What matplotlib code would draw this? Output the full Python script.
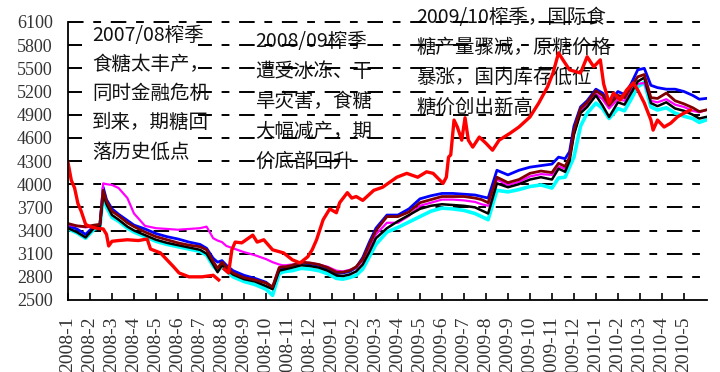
import matplotlib
matplotlib.use('Agg')
import matplotlib.pyplot as plt
from matplotlib.patches import Rectangle

plt.rcParams['font.family'] = ['Liberation Serif', 'DejaVu Serif']

# x positions are months counted from 2008-1 (0) to 2010-5 (28)
month_labels = ['2008-1', '2008-2', '2008-3', '2008-4', '2008-5', '2008-6', '2008-7',
                '2008-8', '2008-9', '2008-10', '2008-11', '2008-12', '2009-1', '2009-2',
                '2009-3', '2009-4', '2009-5', '2009-6', '2009-7', '2009-8', '2009-9',
                '2009-10', '2009-11', '2009-12', '2010-1', '2010-2', '2010-3', '2010-4',
                '2010-5']
y_ticks = [2500, 2800, 3100, 3400, 3700, 4000, 4300, 4600, 4900, 5200, 5500, 5800, 6100]

# futures contracts (shared dates)
t_cluster = [0, 0.4, 0.8, 1.2, 1.45, 1.6, 1.75, 2.0, 2.3, 2.7, 3.0, 3.5, 4.0, 4.5, 5.0,
             5.5, 6.0, 6.3, 6.6, 6.8, 7.0, 7.2, 7.5, 8.0, 8.5, 9.0, 9.3, 9.6, 9.75, 9.9,
             10.2, 10.6, 11.0, 11.4, 11.8, 12.2, 12.5, 12.8, 13.1, 13.4, 13.7, 14.0, 14.5,
             15.0, 15.5, 16.0, 16.5, 17.0, 17.5, 18.0, 18.5, 18.8, 19.1, 19.5, 20.0, 20.5,
             21.0, 21.5, 22.0, 22.3, 22.6, 22.8, 23.0, 23.3, 23.6, 24.0, 24.3, 24.6, 25.0,
             25.3, 25.6, 25.9, 26.2, 26.5, 26.8, 27.2, 27.6, 28.0, 28.4, 28.7, 29.0]

maroon = [3490, 3460, 3450, 3470, 3480, 3920, 3780, 3650, 3590, 3500,
          3450, 3380, 3320, 3280, 3240, 3210, 3190, 3150, 3000, 2910,
          2990, 2930, 2850, 2790, 2760, 2720, 2670, 2920, 2930, 2930,
          2950, 2990, 2980, 2960, 2920, 2860, 2860, 2880, 2930, 3030,
          3220, 3400, 3580, 3580, 3640, 3760, 3800, 3840, 3840, 3840,
          3820, 3800, 3760, 4090, 4020, 4060, 4140, 4170, 4150, 4270,
          4230, 4350, 4700, 4980, 5060, 5210, 5150, 5020, 5150, 5120,
          5260, 5390, 5420, 5120, 5110, 5180, 5080, 5040, 4990, 4940, 4960]

blue = [3460, 3420, 3350, 3460, 3470, 3960, 3800, 3680, 3610, 3530,
        3470, 3420, 3360, 3320, 3290, 3250, 3220, 3170, 3040, 2990,
        3010, 2950, 2880, 2820, 2780, 2730, 2660, 2900, 2910, 2920,
        2940, 2980, 2970, 2950, 2910, 2850, 2850, 2870, 2920, 3050,
        3250, 3430, 3600, 3600, 3680, 3810, 3850, 3880, 3880, 3870,
        3860, 3840, 3820, 4180, 4120, 4180, 4220, 4240, 4260, 4350,
        4330, 4420, 4750, 5000, 5080, 5230, 5180, 5060, 5200, 5160,
        5300, 5480, 5500, 5280, 5250, 5230, 5230, 5200, 5150, 5100, 5110]

black = [3430, 3380, 3310, 3440, 3460, 3870, 3740, 3600, 3540, 3450,
         3400, 3340, 3280, 3240, 3210, 3180, 3150, 3100, 2960, 2860,
         2950, 2900, 2830, 2770, 2740, 2680, 2640, 2880, 2890, 2900,
         2920, 2950, 2940, 2920, 2880, 2820, 2810, 2830, 2870, 2960,
         3120, 3300, 3430, 3520, 3600, 3680, 3720, 3740, 3730, 3720,
         3700, 3660, 3620, 4010, 3960, 4000, 4060, 4090, 4060, 4200,
         4160, 4300, 4640, 4920, 5000, 5150, 5020, 4870, 5060, 5030,
         5180, 5330, 5380, 5050, 5010, 5060, 4980, 4950, 4900, 4850, 4870]

cyan = [3420, 3370, 3300, 3420, 3440, 3850, 3700, 3570, 3520, 3430,
        3380, 3320, 3260, 3220, 3190, 3160, 3130, 3080, 2940, 2880,
        2930, 2880, 2800, 2740, 2700, 2640, 2560, 2840, 2860, 2870,
        2880, 2910, 2900, 2880, 2840, 2780, 2770, 2790, 2820, 2900,
        3060, 3220, 3380, 3440, 3510, 3580, 3650, 3690, 3680, 3660,
        3620, 3580, 3540, 3920, 3900, 3930, 3970, 3990, 3950, 4080,
        4090, 4220, 4350, 4750, 4920, 5050, 4980, 4850, 4980, 4950,
        5100, 5260, 5320, 5000, 4960, 4990, 4920, 4880, 4850, 4800, 4830]

magenta = [3470, 3460, 3440, 3460, 3470, 4010, 4000, 3990, 3950, 3820,
           3620, 3460, 3430, 3420, 3410, 3420, 3430, 3450, 3300, 3270,
           3250, 3200, 3170, 3120, 3080, 3030, 2990, 2960, 2950, 2950,
           2960, 2990, 2980, 2960, 2930, 2880, 2870, 2890, 2920, 3010,
           3180, 3350, 3500, 3500, 3590, 3720, 3760, 3800, 3800, 3790,
           3770, 3740, 3720, 4060, 3990, 4030, 4100, 4130, 4120, 4230,
           4200, 4320, 4650, 4940, 5030, 5170, 5100, 4980, 5100, 5080,
           5220, 5300, 5310, 5080, 5060, 5100, 5030, 5000, 4950, 4930, 4960]

# red series, two pieces
t_red_a = [0, 0.15, 0.3, 0.45, 0.6, 0.8, 1.0, 1.3, 1.6, 1.75, 1.85, 2.0, 2.3, 2.7, 3.2,
           3.6, 3.75, 4.2, 4.5, 4.8, 5.05, 5.5, 6.1, 6.6, 6.85]
red_a = [4280, 4050, 3950, 3750, 3650, 3480, 3450, 3430, 3420, 3350, 3200, 3260, 3270,
         3280, 3270, 3290, 3160, 3110, 3020, 2930, 2850, 2800, 2800, 2820, 2760]

t_red_b = [7.1, 7.3, 7.45, 7.6, 7.9, 8.2, 8.4, 8.6, 8.9, 9.3, 9.8, 10.2, 10.55, 10.9, 11.1,
           11.3, 11.6, 11.9, 12.2, 12.35, 12.7, 12.9, 13.1, 13.4, 13.9, 14.3, 14.95, 15.4,
           15.9, 16.3, 16.6, 17.05, 17.2, 17.3, 17.4, 17.55, 17.7, 17.9, 18.05, 18.2, 18.4,
           18.7, 19.0, 19.3, 19.6, 20.1, 20.5, 21.0, 21.4, 21.8, 22.05, 22.3, 22.5, 22.8,
           23.3, 23.6, 23.9, 24.2, 24.35, 24.6, 24.8, 25.1, 25.4, 25.7, 25.9, 26.2, 26.5,
           26.6, 26.8, 27.1, 27.4, 27.7, 28.0, 28.3]
red_b = [2900, 2850, 3150, 3250, 3240, 3300, 3340, 3250, 3280, 3150, 3110, 3020, 2980,
         3060, 3150, 3280, 3540, 3680, 3630, 3760, 3890, 3820, 3840, 3790, 3920, 3960,
         4090, 4140, 4090, 4160, 4140, 4010, 4090, 4350, 4380, 4830, 4740, 4570, 4860,
         4570, 4480, 4610, 4530, 4440, 4570, 4660, 4740, 4870, 5050, 5260, 5440, 5700,
         5610, 5480, 5440, 5650, 5520, 5610, 5300, 5050, 5180, 5090, 5220, 5310, 5220,
         5050, 4830, 4700, 4830, 4740, 4790, 4870, 4920, 4960]

notes_1 = ['2007/08榨季', '食糖太丰产，', '同时金融危机', '到来，期糖回', '落历史低点']
notes_2 = ['2008/09榨季', '遭受冰冻、干', '旱灾害，食糖', '大幅减产，期', '价底部回升']
notes_3 = ['2009/10榨季，国际食', '糖产量骤减，原糖价格', '暴涨，国内库存低位', '糖价创出新高']

W, H = 720, 372
x_max = 29.05
fig = plt.figure(figsize=(W / 100, H / 100), dpi=100)
ax = fig.add_axes([68 / W, 1 - 300 / H, (707 - 68) / W, (300 - 22) / H])

ax.set_xlim(0, x_max)
ax.set_ylim(2500, 6100)

# dashed gridlines at every y tick (long dash, gap, short dash, gap)
for v in y_ticks[1:]:
    ax.plot([0, x_max], [v, v], color='#000000', lw=1.4, dash_capstyle='butt',
            dashes=(8, 5, 4, 5), zorder=1.2, clip_on=False)

ax.plot(t_cluster, cyan, color='#00FFFF', lw=2.6, zorder=2)
ax.plot(t_cluster, blue, color='#0000FF', lw=2.0, zorder=2.1)
ax.plot(t_cluster, magenta, color='#FF00FF', lw=1.6, zorder=2.2)
ax.plot(t_cluster, black, color='#000000', lw=1.8, zorder=2.3)
ax.plot(t_cluster, maroon, color='#800000', lw=2.0, zorder=2.4)
ax.plot(t_red_a, red_a, color='#FF0000', lw=2.4, zorder=2.5)
ax.plot(t_red_b, red_b, color='#FF0000', lw=2.4, zorder=2.5)

ax.set_xticks(range(len(month_labels)))
ax.set_xticklabels(month_labels, rotation=90, fontsize=14, color='#333333',
                   fontfamily='Liberation Serif')
ax.set_yticks(y_ticks)
ax.set_yticklabels([str(v) for v in y_ticks], fontsize=13, color='#333333',
                   fontfamily='Liberation Serif')
ax.tick_params(axis='x', direction='in', length=5, width=1.2, pad=12)
ax.tick_params(axis='y', length=0, pad=11)

for side in ['top', 'right']:
    ax.spines[side].set_visible(False)
for side in ['left', 'bottom']:
    ax.spines[side].set_linewidth(1.3)
    ax.spines[side].set_color('black')

# white text box behind the first note (hides the gridlines there)
ax.add_patch(Rectangle((82 / W, 1 - 170 / H), 116 / W, 144 / H, transform=fig.transFigure,
                       facecolor='white', edgecolor='none', zorder=1.3, clip_on=False))

cjk = ['Noto Sans CJK SC', 'DejaVu Sans']
for i, s in enumerate(notes_1):
    ax.text(92 / W, 1 - (35 + 29.3 * i) / H, s, transform=fig.transFigure, family=cjk,
            fontsize=14, va='center', ha='left', color='#111111', zorder=1.5)
for i, s in enumerate(notes_2):
    ax.text(255 / W, 1 - (42 + 29.8 * i) / H, s, transform=fig.transFigure, family=cjk,
            fontsize=14, va='center', ha='left', color='#111111', zorder=1.1)
for i, s in enumerate(notes_3):
    ax.text(416 / W, 1 - (17 + 30 * i) / H, s, transform=fig.transFigure, family=cjk,
            fontsize=14, va='center', ha='left', color='#111111', zorder=1.1)

fig.savefig('out.png', dpi=100)
